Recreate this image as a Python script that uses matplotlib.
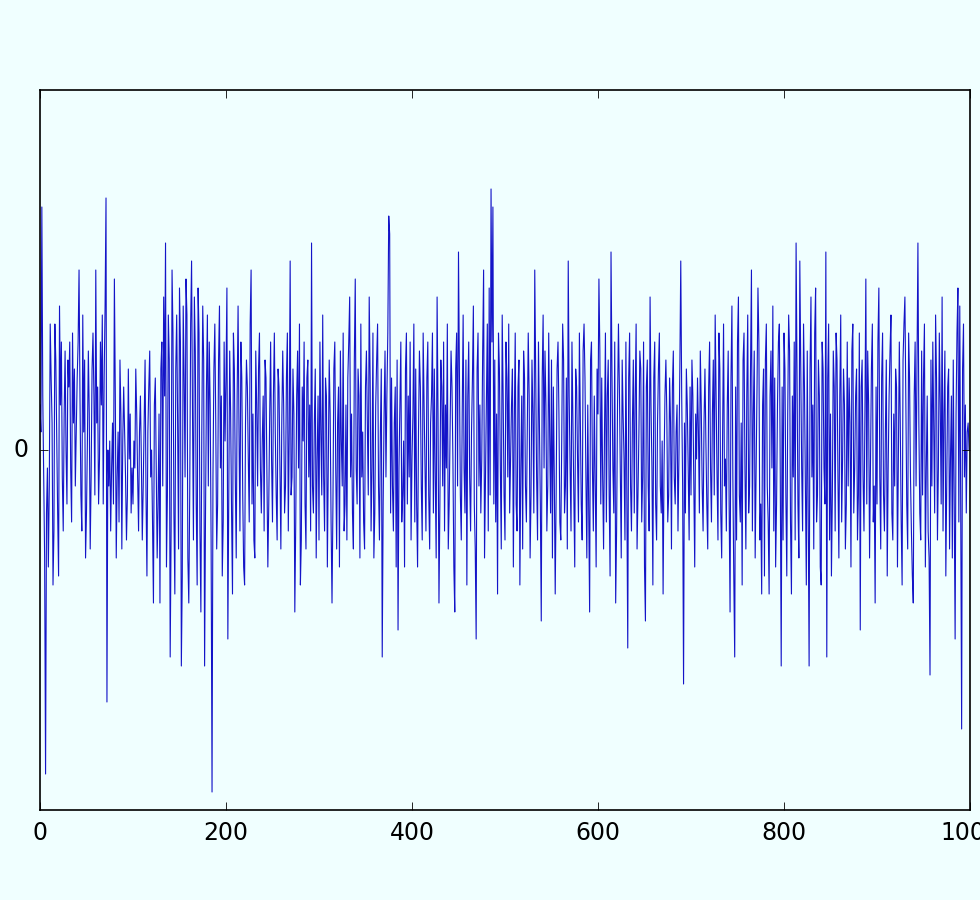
import numpy as np
import matplotlib
matplotlib.use("Agg")
import matplotlib.pyplot as plt

# signal values, in tenths, 100 samples per block
block_0 = [5, 2, 27, 6, -3, -12, -36, -7, -2, -13,
           -4, 14, 8, 3, -15, -9, 14, 10, 1, -7,
           -14, 16, 5, 12, -3, -9, 4, 11, 0, -6,
           10, 7, 12, -2, -8, 13, 3, 9, -4, 2,
           8, 12, 20, 6, -5, -9, 15, 2, 10, -12,
           -7, 1, 11, 4, -11, -3, 9, 13, 6, -5,
           20, 3, 7, -6, -1, 12, 5, 15, -6, 8,
           16, 28, -28, 0, -4, 1, -9, -2, 3, -6,
           19, 6, -12, -3, 2, -8, 10, 4, -11, 1,
           7, 2, -3, -10, -5, 9, -1, 4, -7, -2]
block_1 = [-6, 1, -2, 9, 4, -3, -9, 2, 6, -1,
           -10, -4, 3, 10, -5, -14, 2, 7, 11, -3,
           0, -8, -17, 5, 8, -2, -12, -6, 4, -17,
           9, 12, -4, 17, 6, 23, -13, -5, 15, 10,
           -23, -9, 20, 13, -7, -16, 9, 15, 3, -11,
           18, 12, -24, -14, 16, 8, -3, 19, 15, -12,
           -17, -5, 14, 21, 4, -10, 17, 11, -6, -15,
           18, 13, -9, -18, 2, 16, 10, -24, -7, 7,
           15, -4, 12, 5, -10, -38, -3, 9, 14, 3,
           -11, -6, 10, 16, -2, 6, -14, -8, 12, 1]
block_2 = [8, 18, -21, -5, 11, 4, -7, -16, 13, 9,
           -3, -12, 6, 16, 2, -9, 12, 8, -5, -13,
           -15, 3, 10, 7, -1, -8, 14, 20, -6, 4,
           -10, -12, 11, 5, -4, 9, 13, -2, -7, 1,
           6, -9, 10, 8, -3, -13, -6, 4, 12, -1,
           -8, 6, 13, 2, -5, -10, 9, 7, -2, -11,
           3, 11, 5, -7, -4, 8, 13, -9, 2, 21,
           -5, -3, 9, 4, -18, -8, 6, 11, -2, 14,
           -15, -10, 7, 1, 12, -6, -11, 8, 10, -3,
           5, -9, 23, -4, -7, 3, 9, -12, -1, 6]
block_3 = [-10, 12, 2, -5, 15, -3, -9, 8, 6, -13,
           -1, 10, 4, -8, -17, -6, 9, 12, -2, -11,
           3, 7, -13, 11, 1, -4, 13, -9, -6, 5,
           -10, 8, 12, 17, -3, 4, -7, -11, 10, 19,
           -2, -6, 9, 6, -12, 14, -3, 2, -8, -11,
           7, 11, 3, -5, 17, 8, -9, -2, 13, -12,
           -7, 5, 10, 14, -4, -10, 2, 9, -23, -6,
           4, 11, -3, 6, 13, 26, 24, -7, 8, -4,
           -9, 3, 7, -13, 10, -20, -2, 5, 12, -8,
           -5, 1, -13, 9, 13, -6, 6, -3, 12, -10]
block_4 = [-1, 4, 14, -8, 9, -6, -13, 2, 11, 7,
           -4, -10, 13, 5, -2, -9, 8, 12, -5, -11,
           3, 6, 13, -7, 9, -3, -12, 17, 4, -17,
           -6, 10, 7, -4, 12, -9, 5, -2, 14, -11,
           -6, 3, 11, 7, -1, -13, -18, 9, 13, -4,
           22, 8, -5, -10, 4, 15, -2, -7, 10, -15,
           6, 12, -3, -9, 2, 8, 16, -6, -11, -21,
           9, 13, -4, 5, -7, -1, 11, 20, -12, -3,
           7, 14, -9, 18, -5, 29, 12, 27, -6, 10,
           -8, 4, -16, 13, 9, -2, -11, 15, 6, -5]
block_5 = [-10, 12, 8, -3, 14, -7, -1, 5, 9, -13,
           3, 13, -6, -9, 7, 10, -15, -2, 6, -11,
           11, 8, -4, -8, 2, 13, 6, -12, -5, 10,
           4, -7, 20, 9, -3, -10, 12, 3, -6, -19,
           8, 15, -2, 11, 5, -9, -4, 13, 2, -7,
           10, -12, 7, -3, -16, -5, 9, 12, 4, -8,
           -10, 1, 14, 10, -7, -4, 8, -11, 21, 6,
           -2, -9, 12, 3, -5, -13, 9, 7, -1, -8,
           13, 4, -6, -10, 11, 14, 8, -3, -12, 5,
           -7, -18, 10, 12, -2, -9, 6, -4, -13, 9]
block_6 = [4, 19, 11, -6, 8, -3, -11, 2, 13, -8,
           6, 10, -5, -14, 22, 9, -2, -7, 12, -17,
           -9, 5, 14, 7, -3, -12, 10, 4, -1, -10,
           12, -6, -22, 8, 13, -4, -9, 3, 10, -7,
           6, 14, -11, -5, 2, 11, 9, -8, -3, 12,
           -13, -19, 7, 10, -4, -9, 17, 5, -2, -15,
           8, 12, -6, -10, 3, 9, 13, -4, -7, 1,
           -16, -2, 6, 10, 4, -8, -5, 8, 3, -11,
           7, 11, -3, -6, 2, 5, -9, -1, 9, 21,
           6, -4, -26, 3, -7, 9, 5, -2, -10, 7]
block_7 = [-5, 10, 6, -3, -13, 4, -1, 8, 2, -7,
           11, 5, -4, -9, 3, 9, 1, -6, -11, 7,
           12, -2, -8, 4, 10, -5, 15, 6, -3, -10,
           13, 9, -7, -12, 2, 14, -4, -1, -9, 5,
           11, -6, -18, 8, 16, -3, -14, -23, 7, -10,
           12, 17, -5, -8, 3, -15, 10, 13, -2, -11,
           6, 15, -7, -4, 9, 20, -9, 4, 11, -12,
           -3, 7, 18, 12, -10, -6, -16, 5, 9, -14,
           10, 14, -4, -8, -16, 6, 11, -2, 16, -9,
           8, -13, -6, 5, 12, 14, -3, -24, 7, -10]
block_8 = [13, 9, -5, -14, 4, 15, 11, -8, -16, 6,
           -3, 12, -10, 23, 8, -6, -12, 21, 10, -2,
           -9, 14, 7, -4, -15, 11, -7, -24, 9, 17,
           -3, 5, -11, 13, 18, -8, -5, 10, 6, -13,
           -15, 12, 9, -2, -6, 22, -23, 8, 14, -10,
           4, -14, -5, 11, 7, -9, 13, 10, -3, -12,
           6, 15, -8, -1, 9, 5, -11, -6, 12, -4,
           8, 3, -13, 11, 14, -7, -2, 6, 9, -10,
           -5, 13, -20, 7, 10, -3, -9, 4, 19, -6,
           11, 5, -12, -2, 9, 14, -8, -4, -17, 7]
block_9 = [-6, 12, 18, -3, -11, 8, 13, -5, -9, 2,
           10, -14, -2, 6, 11, 15, -7, -10, 4, -4,
           9, 7, -13, -1, 12, 3, -8, -15, 10, 14,
           17, 5, -6, -11, 13, 8, -3, -9, -14, -17,
           6, 12, -4, 9, 23, 3, -7, -10, 11, -5,
           8, 14, -13, -2, 6, -9, -12, -25, 10, -4,
           12, 3, -7, 15, 8, -10, -2, 13, 5, -6,
           17, -9, 4, 11, -14, -3, 7, 9, -11, -1,
           6, -12, 10, -5, -21, 4, 13, 18, -8, 16,
           -6, -31, 9, 14, -3, 5, -7, 2, 3, 0]

xticks = [0, 200, 400, 600, 800, 1000]
yticks = [0]

blocks = [block_0, block_1, block_2, block_3, block_4,
          block_5, block_6, block_7, block_8, block_9]
values = np.concatenate([np.array(b, dtype=float) for b in blocks]) / 10.0
x = np.arange(len(values))

plt.style.use('classic')
plt.rcParams['font.family'] = ['DejaVu Sans']
plt.rcParams['font.size'] = 17

bg = '#F0FFFF'
fig = plt.figure(figsize=(9.8, 9.0), dpi=100, facecolor=bg)
# axes run slightly past the right edge, like the cropped original
ax = fig.add_axes([0.0408, 0.1, 0.9490, 0.8], facecolor=bg)

ax.plot(x, values, color='#1414c8', linewidth=0.8)

ax.set_xlim(0, 1000)
ax.set_ylim(-4, 4)
ax.set_xticks(xticks)
ax.set_yticks(yticks)
ax.tick_params(direction='in', length=6, width=0.6, top=True, right=True,
               labelsize=17, pad=8)
for spine in ax.spines.values():
    spine.set_linewidth(1.2)

fig.savefig('out.png', dpi=100, facecolor=bg)
